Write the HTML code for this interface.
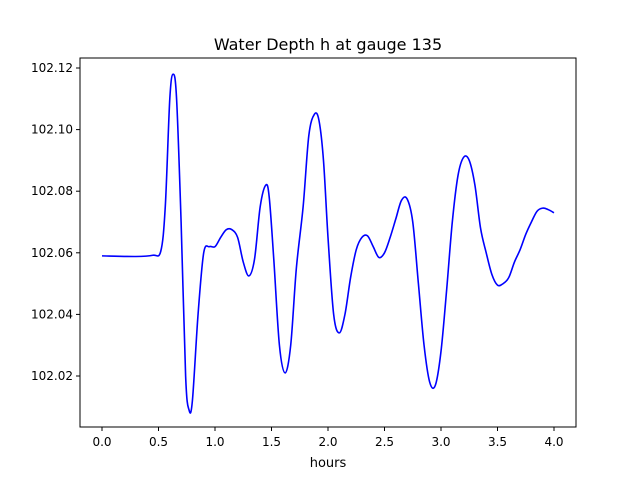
<!DOCTYPE html>
<html><head><meta charset="utf-8"><style>
body{margin:0;background:#fff;font-family:"Liberation Sans","DejaVu Sans",sans-serif}
svg text{font-family:"DejaVu Sans","Liberation Sans",sans-serif;fill:#000}
</style></head><body>
<svg id="chart" width="640" height="480">
<rect width="640" height="480" fill="#fff"/>
<text x="328" y="50" font-size="16" text-anchor="middle">Water Depth h at gauge 135</text>
<g id="plot"></g>
<rect x="80" y="58" width="496" height="369" fill="none" stroke="#000" stroke-width="1"/>
<text x="328" y="467" font-size="13" text-anchor="middle">hours</text>
</svg>
<script>
const times=[0,0.3,0.45,0.52,0.56,0.6,0.63,0.66,0.7,0.74,0.77,0.8,0.85,0.9,0.95,1.0,1.05,1.1,1.15,1.2,1.25,1.3,1.35,1.4,1.45,1.48,1.52,1.57,1.62,1.67,1.72,1.78,1.83,1.88,1.92,1.96,2.0,2.05,2.1,2.15,2.2,2.25,2.3,2.35,2.4,2.45,2.5,2.55,2.6,2.65,2.7,2.75,2.8,2.85,2.9,2.95,3.0,3.05,3.1,3.15,3.2,3.25,3.3,3.35,3.4,3.45,3.5,3.55,3.6,3.65,3.7,3.75,3.8,3.85,3.9,3.95,4.0];
const depth=[102.059,102.0588,102.0592,102.0605,102.075,102.11,102.118,102.11,102.07,102.02,102.009,102.012,102.04,102.06,102.062,102.062,102.065,102.0675,102.0675,102.065,102.057,102.0525,102.058,102.075,102.082,102.078,102.058,102.03,102.021,102.03,102.055,102.075,102.098,102.105,102.103,102.09,102.065,102.04,102.034,102.04,102.052,102.061,102.065,102.0655,102.062,102.0585,102.06,102.065,102.071,102.077,102.0775,102.07,102.05,102.03,102.018,102.017,102.028,102.048,102.07,102.085,102.091,102.09,102.082,102.068,102.06,102.053,102.0495,102.05,102.052,102.057,102.061,102.066,102.07,102.0735,102.0745,102.074,102.073];
const xTicks=[0,0.5,1,1.5,2,2.5,3,3.5,4];
const yTicks=[102.02,102.04,102.06,102.08,102.10,102.12];
const X=t=>102+t*113;
const Y=v=>376-(v-102.02)/0.02*61.6;
const NS="http://www.w3.org/2000/svg";
const g=document.getElementById('plot');
function mk(tag,attrs){const e=document.createElementNS(NS,tag);for(const k in attrs)e.setAttribute(k,attrs[k]);g.appendChild(e);return e;}
xTicks.forEach(t=>{
 const l=mk('line',{x1:X(t),x2:X(t),y1:427,y2:431,stroke:'#000'});
 
 
 const s=mk('text',{x:X(t),y:446,'font-size':12,'text-anchor':'middle'});
 s.textContent=t.toFixed(1);
 
 
});
yTicks.forEach(v=>{
 const l=mk('line',{x1:76,x2:80,y1:Y(v),y2:Y(v),stroke:'#000'});
 
 
 const s=mk('text',{x:73,y:Y(v)+4,'font-size':12,'text-anchor':'end'});
 s.textContent=v.toFixed(2);
 
 
});
// smooth path (Catmull-Rom)
const P=times.map((t,i)=>[X(t),Y(depth[i])]);
let d='M'+P[0][0]+','+P[0][1];
for(let i=0;i<P.length-1;i++){
 const p0=P[Math.max(0,i-1)],p1=P[i],p2=P[i+1],p3=P[Math.min(P.length-1,i+2)];
 const c1=[p1[0]+(p2[0]-p0[0])/6,p1[1]+(p2[1]-p0[1])/6];
 const c2=[p2[0]-(p3[0]-p1[0])/6,p2[1]-(p3[1]-p1[1])/6];
 d+=' C'+c1+' '+c2+' '+p2;
}
const line=mk('path',{d:d,fill:'none',stroke:'#0000ff','stroke-width':1.6});


</script>
</body></html>
